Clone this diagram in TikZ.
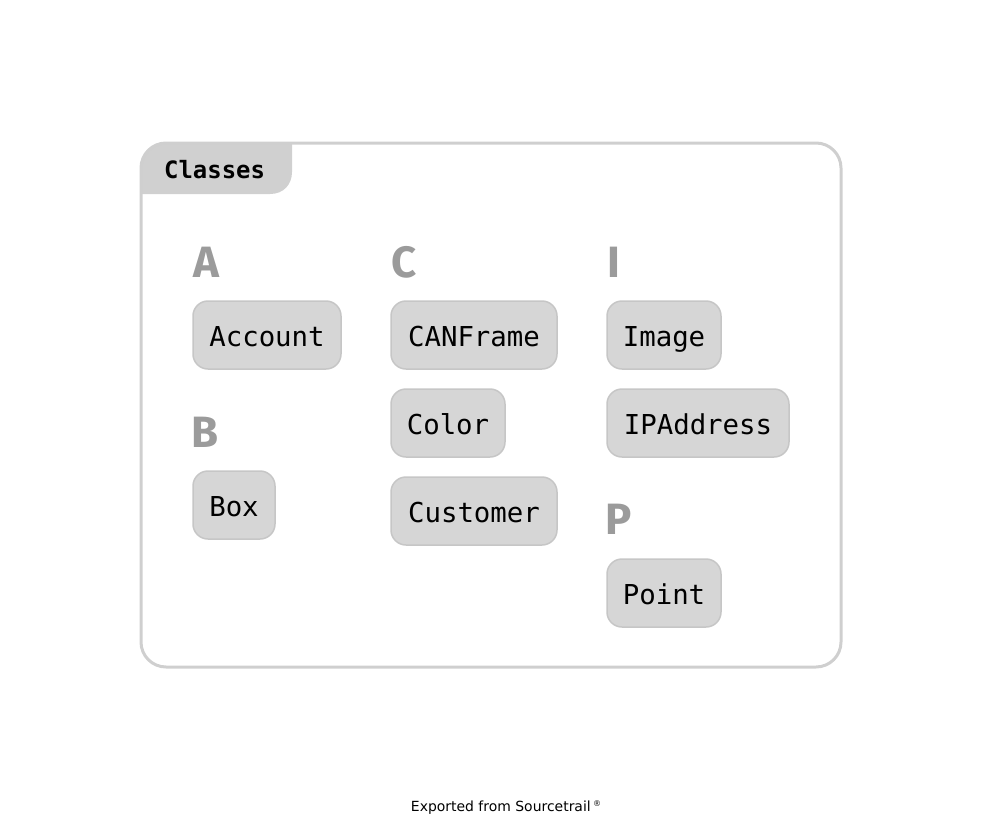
\documentclass[tikz,border=0pt]{standalone}
\usepackage{fontspec}
\setmainfont{DejaVu Sans}
\setmonofont{DejaVu Sans Mono}
\newfontfamily\letterfont{Fira Sans}
\definecolor{framegray}{HTML}{CFCFCF}
\definecolor{tabgray}{HTML}{D0D0D0}
\definecolor{boxfill}{HTML}{D6D6D6}
\definecolor{boxline}{HTML}{C6C6C6}
\definecolor{lettergray}{HTML}{9B9B9B}
\tikzset{
  classbox/.style={draw=boxline,fill=boxfill,line width=1.5bp,rounded corners=15bp,
    minimum height=68bp,inner sep=0pt,text height=22bp,text depth=0pt,
    font=\ttfamily\fontsize{27.5}{32}\selectfont},
  groupletter/.style={anchor=base west,inner sep=0pt,text=lettergray,
    font=\letterfont\bfseries\fontsize{44}{50}\selectfont},
}
\begin{document}
\begin{tikzpicture}[x=1bp,y=-1bp]
  \useasboundingbox (0,0) rectangle (1002,826);
%%
  % Frame: Classes
  \fill[tabgray] (141,194) -- (141,168) .. controls (141,154) and (152,143) .. (166,143)
    -- (292,143) -- (292,172) .. controls (292,184) and (284,194) .. (270,194) -- cycle;
  \draw[framegray,line width=3bp,rounded corners=25bp] (141,143) rectangle (841,667);
  \node[anchor=base west,inner sep=0pt,font=\ttfamily\bfseries\fontsize{24}{28}\selectfont]
    (classes) at (164,178) {Classes};
  % Group: A
  \node[groupletter] (letterA) at (193,277) {A};
  \node[classbox,minimum width=148bp] (account) at (267,335) {Account};
  % Group: B
  \node[groupletter] (letterB) at (191,447) {B};
  \node[classbox,minimum width=82bp] (box) at (234,505) {Box};
  % Group: C
  \node[groupletter] (letterC) at (391,277) {C};
  \node[classbox,minimum width=166bp] (canframe) at (474,335) {CANFrame};
  \node[classbox,minimum width=114bp] (color) at (448,423) {Color};
  \node[classbox,minimum width=166bp] (customer) at (474,511) {Customer};
  % Group: I
  \node[groupletter] (letterI) at (607,277) {I};
  \node[classbox,minimum width=114bp] (image) at (664,335) {Image};
  \node[classbox,minimum width=182bp] (ipaddress) at (698,423) {IPAddress};
  % Group: P
  \node[groupletter] (letterP) at (605,534) {P};
  \node[classbox,minimum width=114bp] (point) at (664,593) {Point};
  % Footer
  \node[anchor=base,inner sep=0pt,font=\fontsize{14}{16}\selectfont] (footer) at (506,811)
    {Exported from Sourcetrail\,\raisebox{5bp}{\fontsize{8}{9}\selectfont ®}};
%
\end{tikzpicture}
\end{document}
